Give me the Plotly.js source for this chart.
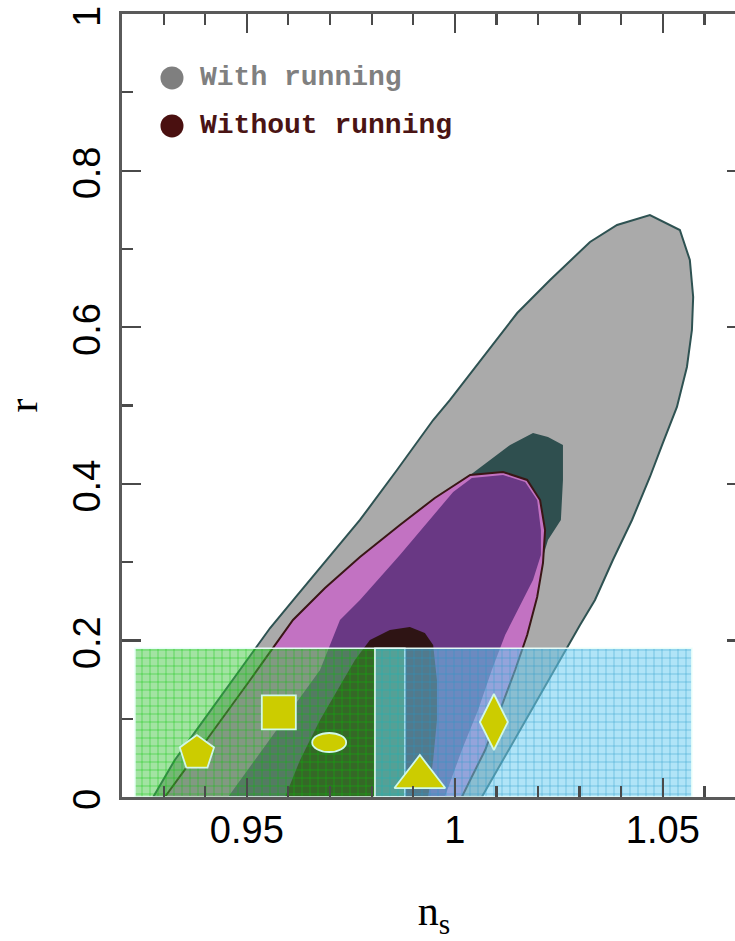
<!DOCTYPE html>
<html><head><meta charset="utf-8">
<script src="https://cdn.plot.ly/plotly-3.0.1.min.js"></script>
<style>html,body{margin:0;padding:0;overflow:hidden;background:#fff}</style>
</head><body><div id="chart"></div>
<script>
// ---- data (ns, r) ----
const withRun95_ns = [0.9275,0.9327,0.9388,0.9448,0.9508,0.9556,0.9616,0.9688,0.9772,0.9861,0.9948,0.9988,1.0068,1.0150,1.0229,1.0325,1.0390,1.0469,1.0541,1.0565,1.0573,1.0570,1.0558,1.0534,1.0500,1.0469,1.0426,1.0380,1.0337,1.0301,1.0253,1.0205,1.0157,1.0109,1.0065];
const withRun95_r  = [0,0.0473,0.0920,0.1367,0.1814,0.2158,0.2542,0.3001,0.3538,0.4176,0.4815,0.5070,0.5619,0.6181,0.6603,0.7088,0.7305,0.7433,0.7241,0.6858,0.6386,0.5964,0.5492,0.4981,0.4521,0.4087,0.3538,0.3027,0.2516,0.2197,0.1750,0.1303,0.0856,0.0409,0];

const withRun68_ns = [1.0037,1.0085,1.0133,1.0188,1.0224,1.0260,1.0260,1.0255,1.0224,1.0188,1.0150,1.0101,1.0046,1.0008,0.9424,0.9532,0.9628,0.9724,0.9820,0.9916,0.9988];
const withRun68_r  = [0.4112,0.4304,0.4496,0.4649,0.4598,0.4496,0.4049,0.3538,0.3282,0.2644,0.2005,0.1239,0.0473,0,0,0.0792,0.1494,0.2197,0.2835,0.3410,0.3793];

const noRun95_ns = [0.9303,0.9351,0.9412,0.9508,0.9611,0.9688,0.9772,0.9868,0.9952,1.0037,1.0116,1.0174,1.0205,1.0217,1.0212,1.0198,1.0174,1.0145,1.0109,1.0073,1.0037,1.0017];
const noRun95_r  = [0,0.0345,0.0792,0.1494,0.2261,0.2669,0.3065,0.3474,0.3819,0.4112,0.4151,0.4049,0.3793,0.3410,0.2989,0.2554,0.2069,0.1622,0.1111,0.0600,0.0217,0];

const noRun68_ns = [0.9455,0.9520,0.9604,0.9676,0.9724,0.9772,0.9868,0.9940,0.9996,1.0041,1.0116,1.0169,1.0198,1.0207,1.0207,1.0188,1.0157,1.0121,1.0089,1.0056,1.0017,0.9976];
const noRun68_r  = [0,0.0473,0.1086,0.1622,0.2261,0.2516,0.3091,0.3538,0.3895,0.4074,0.4112,0.4023,0.3793,0.3410,0.3091,0.2771,0.2452,0.2069,0.1622,0.1111,0.0600,0];

const inner_ns = [0.9592,0.9628,0.9676,0.9724,0.9760,0.9796,0.9844,0.9892,0.9928,0.9948,0.9957,0.9957,0.9948,0.9936];
const inner_r  = [0,0.0473,0.0983,0.1430,0.1750,0.2005,0.2133,0.2171,0.2095,0.1941,0.1494,0.0983,0.0473,0];

// observational boxes
const boxNsMin = [0.9231, 0.9808];
const boxNsMax = [0.9880, 1.0570];
const boxRMax  = [0.19, 0.19];

// model points: pentagon, square, ellipse, triangle, diamond
const modelNs = [0.9380, 0.9577, 0.9698, 0.9916, 1.0094];
const modelR  = [0.0562, 0.1080, 0.0696, 0.0255, 0.0958];

const legendLabels = ['With running', 'Without running'];

const xTickVals = [0.95, 1.00, 1.05];
const xTickText = ['0.95', '1', '1.05'];
const yTickVals = [0, 0.2, 0.4, 0.6, 0.8, 1];
const yTickText = ['0', '0.2', '0.4', '0.6', '0.8', '1'];

const X_RANGE = [0.92, 1.07];
const Y_RANGE = [0, 1];

// ---- traces ----
function closed(a){ return a.concat([a[0]]); }
function region(xs, ys, fill, lineColor, lw){
  return {type:'scatter', mode:'lines', x:closed(xs), y:closed(ys), fill:'toself',
    fillcolor:fill, line:{color:lineColor, width:lw}, hoverinfo:'skip', showlegend:false};
}
const traces = [
  region(withRun95_ns, withRun95_r, '#aaaaaa', '#2e5252', 2),
  region(withRun68_ns, withRun68_r, '#2f4f4f', 'rgba(0,0,0,0)', 0),
  region(noRun95_ns, noRun95_r, '#c272c2', '#3a1616', 2),
  region(noRun68_ns, noRun68_r, '#693884', 'rgba(0,0,0,0)', 0),
  region(inner_ns, inner_r, '#2e1414', 'rgba(0,0,0,0)', 0)
];
const boxStyles = [
  {bg:'rgba(60,195,60,0.48)', fg:'rgba(0,200,0,0.85)'},
  {bg:'rgba(110,205,240,0.55)', fg:'rgba(30,150,200,0.85)'}
];
for(let i=0;i<boxNsMin.length;i++){
  traces.push({type:'scatter', mode:'lines',
    x:[boxNsMin[i], boxNsMax[i], boxNsMax[i], boxNsMin[i], boxNsMin[i]],
    y:[0, 0, boxRMax[i], boxRMax[i], 0],
    fill:'toself', fillcolor:boxStyles[i].bg,
    fillpattern:{shape:'+', size:8, solidity:0.12, bgcolor:boxStyles[i].bg, fgcolor:boxStyles[i].fg},
    line:{color:'rgba(235,255,250,0.95)', width:1.6}, hoverinfo:'skip', showlegend:false});
}
const symIdx = [0,1,3,4];
const syms = ['pentagon','square','triangle-up','diamond-tall'];
const sizes = [36, 34, 44, 40];
traces.push({type:'scatter', mode:'markers', xaxis:'x2', yaxis:'y2',
  x:symIdx.map(i=>modelNs[i]), y:symIdx.map(i=>modelR[i]),
  marker:{symbol:syms, size:sizes, opacity:1, color:'#cccc00', line:{color:'#d0f8e8', width:1.8}},
  hoverinfo:'skip', showlegend:false});

const shapes = [
  {type:'circle', xref:'x', yref:'y', xsizemode:'pixel', ysizemode:'pixel',
   xanchor:modelNs[2], yanchor:modelR[2], x0:-17, x1:17, y0:-9.5, y1:9.5,
   fillcolor:'#cccc00', line:{color:'#d0f8e8', width:1.8}},
  {type:'circle', xref:'paper', yref:'paper', xsizemode:'pixel', ysizemode:'pixel',
   xanchor:0.0801, yanchor:0.9183, x0:-11.5, x1:11.5, y0:-11.5, y1:11.5,
   fillcolor:'#7f7f7f', line:{width:0}},
  {type:'circle', xref:'paper', yref:'paper', xsizemode:'pixel', ysizemode:'pixel',
   xanchor:0.0801, yanchor:0.857, x0:-11.5, x1:11.5, y0:-11.5, y1:11.5,
   fillcolor:'#4a1010', line:{width:0}}
];
const annotations = [
  {xref:'paper', yref:'paper', x:0.1218, y:0.9183, xanchor:'left', yanchor:'middle', showarrow:false,
   text:legendLabels[0], font:{family:'Liberation Mono, monospace', size:28, color:'#808080', weight:'bold'}},
  {xref:'paper', yref:'paper', x:0.1218, y:0.857, xanchor:'left', yanchor:'middle', showarrow:false,
   text:legendLabels[1], font:{family:'Liberation Mono, monospace', size:28, color:'#4a1414', weight:'bold'}}
];

const axisCommon = {
  showgrid:false, zeroline:false, showline:true, linecolor:'#5a5a5a', linewidth:3,
  mirror:'ticks', ticks:'inside', ticklen:19, tickwidth:2.2, tickcolor:'#4a4a4a',
  ticklabeloverflow:'allow',
  tickfont:{family:'Liberation Sans, Arial, sans-serif', size:38, color:'#000'}
};
const layout = {
  width:760, height:941,
  margin:{l:122, r:14, t:14, b:144},
  paper_bgcolor:'#fff', plot_bgcolor:'#fff',
  xaxis:Object.assign({}, axisCommon, {
    range:X_RANGE, tickmode:'array', tickvals:xTickVals, ticktext:xTickText,
    ticklabelstandoff:-3,
    minor:{dtick:0.01, tick0:0.92, ticks:'inside', ticklen:11, tickwidth:2.2, tickcolor:'#4a4a4a', showgrid:false},
    title:{text:'n<sub>s</sub>', font:{family:'Liberation Serif, serif', size:42, color:'#000'}, standoff:47}
  }),
  yaxis:Object.assign({}, axisCommon, {
    range:Y_RANGE, tickmode:'array', tickvals:yTickVals, ticktext:yTickText, tickangle:-90,
    ticklabelstandoff:4, ticklabelshift:8,
    minor:{dtick:0.1, tick0:0, ticks:'inside', ticklen:11, tickwidth:2.2, tickcolor:'#4a4a4a', showgrid:false},
    title:{text:'r', font:{family:'Liberation Serif, serif', size:42, color:'#000'}, standoff:38}
  }),
  xaxis2:{overlaying:'x', range:X_RANGE, visible:false, fixedrange:true},
  yaxis2:{overlaying:'y', range:Y_RANGE, visible:false, fixedrange:true},
  shapes:shapes, annotations:annotations, showlegend:false
};
Plotly.newPlot('chart', traces, layout, {staticPlot:true, displayModeBar:false});
</script></body></html>
